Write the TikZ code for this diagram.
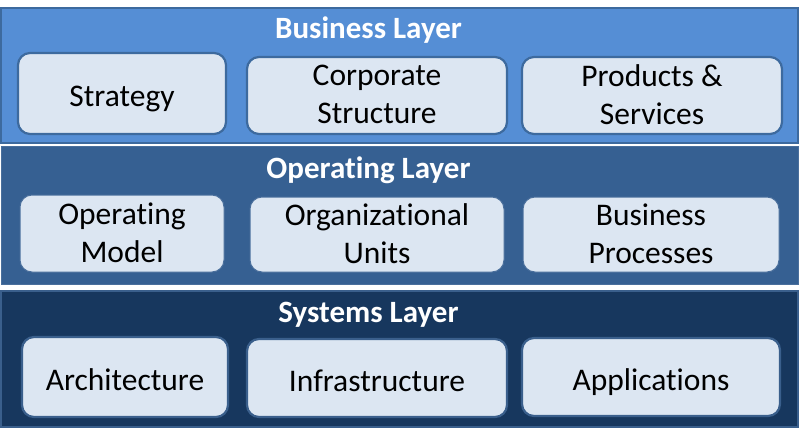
\documentclass[tikz,border=0pt]{standalone}
\usepackage{fontspec}
\setmainfont{Carlito}[Ligatures=CommonOff]
\definecolor{bizfill}{HTML}{558ED5}
\definecolor{bizline}{HTML}{3D6A9E}
\definecolor{opfill}{HTML}{366092}
\definecolor{opline}{HTML}{4A6F9C}
\definecolor{sysfill}{HTML}{17375E}
\definecolor{sysline}{HTML}{3A5F8C}
\definecolor{boxfill}{HTML}{DCE6F2}
\newcommand\bxstrut{\rule[-8.4pt]{0pt}{43.4pt}}
\newcommand\bxstruttwo{\rule[-2pt]{0pt}{10pt}}
\tikzset{
  layer/.style={line width=2pt},
  box/.style={rounded corners=12pt, fill=boxfill, inner sep=0pt, align=center,
    font=\fontsize{31.5}{38}\selectfont, text=black},
  onebox/.style={box, execute at begin node=\bxstrut, execute at end node=\bxstrut},
  twobox/.style={box, execute at begin node=\bxstruttwo, execute at end node=\bxstruttwo},
  title/.style={anchor=base, text=white, inner sep=0pt,
    font=\fontsize{31}{36}\selectfont\bfseries}
}
\begin{document}
\begin{tikzpicture}[x=1pt,y=-1pt]
\useasboundingbox (0,0) rectangle (800,428);
% layers
\node[layer, draw=bizline, fill=bizfill, minimum width=797pt, minimum height=135pt, inner sep=0pt] (bizlayer) at (399.5,75.5) {};
\node[layer, draw=opline, fill=opfill, line width=1pt, minimum width=797pt, minimum height=138pt, inner sep=0pt] (oplayer) at (399.5,215) {};
\node[layer, draw=sysline, fill=sysfill, minimum width=797pt, minimum height=136pt, inner sep=0pt] (syslayer) at (399.5,358.5) {};
% titles
\node[title] (biztitle) at (368.5,38) {Business Layer};
\node[title] (optitle) at (368.5,178) {Operating Layer};
\node[title] (systitle) at (368.5,322) {Systems Layer};
% business boxes
\node[onebox, draw=bizline, line width=2.2pt, minimum width=208pt, minimum height=81pt] (strategy) at (122,93.5) {Strategy};
\node[twobox, draw=bizline, line width=2.2pt, minimum width=260pt, minimum height=77pt] (corporate) at (377,95.5) {Corporate\\Structure};
\node[twobox, draw=bizline, line width=2.2pt, minimum width=260pt, minimum height=77pt] (products) at (652,95.5) {Products \&\\Services};
% operating boxes
\node[twobox, draw=opline, line width=1pt, minimum width=204pt, minimum height=77pt] (opmodel) at (122,233.5) {Operating\\Model};
\node[twobox, draw=opline, line width=1pt, minimum width=254pt, minimum height=75pt] (orgunits) at (377,234.5) {Organizational\\Units};
\node[twobox, draw=opline, line width=1pt, minimum width=256pt, minimum height=75pt] (busproc) at (651,234.5) {Business\\Processes};
% systems boxes
\node[onebox, draw=sysline, line width=2.2pt, minimum width=206pt, minimum height=80pt] (arch) at (125,377) {Architecture};
\node[onebox, draw=sysline, line width=2.2pt, minimum width=260pt, minimum height=78pt] (infra) at (377,378) {Infrastructure};
\node[onebox, draw=sysline, line width=2.2pt, minimum width=258pt, minimum height=78pt] (apps) at (651,377) {Applications};
\end{tikzpicture}
\end{document}
